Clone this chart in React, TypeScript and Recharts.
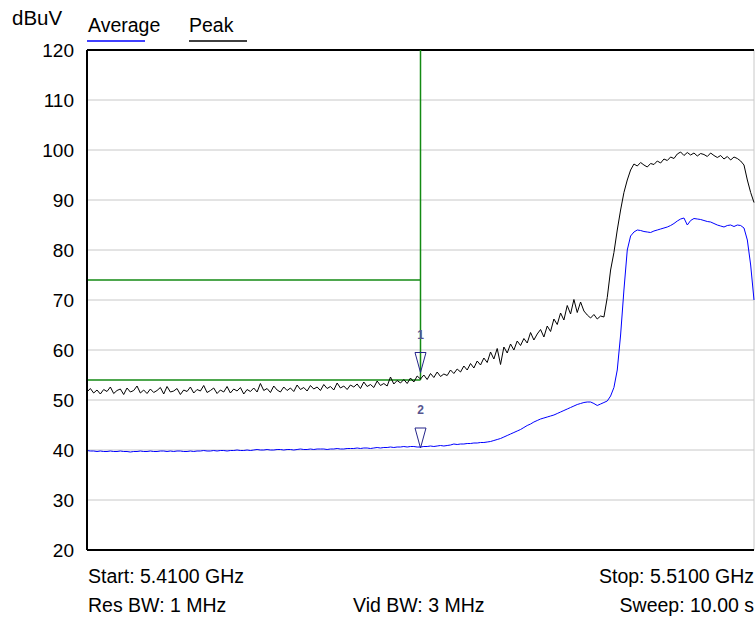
import React from "react";
import {
  LineChart,
  Line,
  XAxis,
  YAxis,
  CartesianGrid,
  ReferenceLine,
  ReferenceDot,
} from "recharts";

// sweep 5.41 - 5.51 GHz, 201 points (index 0..200)
const peakTrace = [
  51.6, 52.3, 51.4, 52.0, 51.2, 52.1, 51.7, 52.6, 51.3, 51.9,
  52.2, 51.1, 52.4, 51.6, 51.9, 52.8, 51.4, 52.0, 51.3, 52.2,
  51.5, 51.9, 52.5, 51.2, 52.7, 51.6, 51.8, 52.3, 51.1, 52.0,
  51.7, 52.6, 51.4, 52.1, 51.8, 52.9, 51.5, 51.9, 52.4, 51.3,
  52.0, 51.6, 52.7, 51.4, 52.2, 51.8, 52.5, 51.2, 52.1, 51.7,
  52.4, 51.6, 53.3, 51.9, 52.3, 51.5, 52.8, 52.0, 51.6, 52.6,
  51.9, 52.4, 51.7, 53.0, 52.1, 52.5, 51.8, 52.9, 52.2, 52.6,
  51.9, 53.1, 52.3, 52.7, 52.0, 53.4, 52.4, 52.8, 52.1, 53.0,
  52.6, 53.2, 52.3, 53.6, 52.7, 53.1, 52.5, 53.8, 52.9, 53.3,
  52.8, 54.6, 53.2, 53.9, 53.4, 54.1, 53.3, 54.4, 53.6, 54.8,
  54.2, 55.0, 54.1, 55.3, 54.5, 55.6, 54.7, 55.2, 54.9, 56.0,
  55.3, 56.2, 55.6, 56.8, 56.0, 57.3, 56.4, 57.8, 57.0, 58.4,
  57.5, 59.6, 58.2, 60.3, 57.1, 60.6, 59.4, 61.2, 60.0, 61.8,
  60.9, 62.3, 61.4, 63.5, 62.0, 63.2, 64.1, 62.6, 64.8, 63.7,
  66.2, 65.1, 67.4, 66.0, 68.9, 67.2, 70.1, 67.5, 69.6, 67.8,
  67.0, 66.4, 67.1, 66.2, 66.8, 66.6, 70.5, 76.0, 79.5, 84.0,
  88.0, 91.5, 94.0, 96.0, 97.2, 96.8, 97.5, 97.0, 96.6, 97.3,
  97.1, 97.8, 97.4, 98.2, 97.9, 98.6, 98.3, 99.2, 99.6, 98.9,
  99.5, 99.0, 99.4, 98.8, 99.3, 99.1, 98.7, 99.4, 98.9, 98.5,
  98.9, 98.2, 98.7, 98.0, 98.6, 98.3, 97.8, 97.0, 94.0, 91.5,
  89.5,
];

const averageTrace = [
  39.9, 39.8, 39.8, 39.7, 39.8, 39.7, 39.7, 39.8, 39.7, 39.7,
  39.8, 39.7, 39.7, 39.6, 39.7, 39.7, 39.8, 39.7, 39.7, 39.8,
  39.7, 39.7, 39.8, 39.8, 39.7, 39.8, 39.7, 39.8, 39.8, 39.7,
  39.7, 39.8, 39.7, 39.8, 39.8, 39.9, 39.8, 39.8, 39.9, 39.8,
  39.9, 39.9, 39.8, 39.9, 39.9, 40.0, 39.9, 39.9, 40.0, 39.9,
  40.0, 40.1, 40.0, 40.0, 40.1, 40.0, 40.0, 40.1, 40.1, 40.0,
  40.1, 40.1, 40.0, 40.1, 40.2, 40.1, 40.1, 40.2, 40.1, 40.2,
  40.2, 40.2, 40.1, 40.2, 40.2, 40.3, 40.2, 40.2, 40.3, 40.3,
  40.3, 40.4, 40.3, 40.4, 40.4, 40.3, 40.4, 40.5, 40.4, 40.5,
  40.5, 40.6, 40.5, 40.6, 40.6, 40.7, 40.6, 40.7, 40.7, 40.6,
  40.6, 40.7, 40.7, 40.8, 40.7, 40.8, 40.9, 40.8, 40.9, 41.0,
  41.2, 41.1, 41.2, 41.2, 41.3, 41.3, 41.4, 41.4, 41.5, 41.5,
  41.6, 41.7, 41.9, 42.1, 42.3, 42.6, 42.9, 43.2, 43.5, 43.8,
  44.1, 44.5, 44.9, 45.2, 45.6, 45.9, 46.2, 46.4, 46.6, 46.8,
  47.0, 47.3, 47.6, 47.9, 48.2, 48.5, 48.8, 49.1, 49.3, 49.5,
  49.6, 49.6, 49.3, 48.9, 49.2, 49.5, 49.8, 50.8, 52.5, 56.0,
  63.0, 72.0, 80.0, 82.8, 83.6, 84.0, 83.9, 83.7, 83.6, 83.5,
  83.8, 84.0, 84.2, 84.4, 84.6, 84.9, 85.3, 85.8, 86.2, 86.4,
  85.0, 85.9, 86.3, 86.2, 86.1, 85.9, 85.7, 85.6, 85.3, 85.0,
  84.8, 84.6, 84.9, 85.0, 84.7, 85.0, 84.9, 84.4, 82.0, 77.0,
  70.0,
];

const yTicks = [20, 30, 40, 50, 60, 70, 80, 90, 100, 110, 120];
const xTicks = [0, 20, 40, 60, 80, 100, 120, 140, 160, 180, 200];

// limit lines and markers
const limitUpper = 74;
const limitLower = 54;
const limitEnd = 100;
const markers = [
  { name: "1", x: 100, y: 55.5 },
  { name: "2", x: 100, y: 40.4 },
];

const unitLabel = "dBuV";
const legendItems = [
  { name: "Average", color: "#0000ff" },
  { name: "Peak", color: "#000000" },
];
const startText = "Start: 5.4100 GHz";
const stopText = "Stop: 5.5100 GHz";
const resBwText = "Res BW: 1 MHz";
const vidBwText = "Vid BW: 3 MHz";
const sweepText = "Sweep: 10.00 s";

const data = peakTrace.map((p, i) => ({ i, peak: p, average: averageTrace[i] }));

const FONT = "'Liberation Sans', Arial, sans-serif";
const GREEN = "#138a13";

const MarkerShape = (props: any) => {
  const { cx, cy, label } = props;
  if (cx == null || cy == null) return null;
  return (
    <g>
      <polygon
        points={`${cx - 5.5},${cy - 20} ${cx + 5.5},${cy - 20} ${cx},${cy}`}
        fill="none"
        stroke="#25258a"
        strokeWidth={1}
      />
      <text
        x={cx}
        y={cy - 34}
        textAnchor="middle"
        fontSize={12}
        fontWeight="bold"
        fill="#55558f"
        fontFamily={FONT}
      >
        {label}
      </text>
    </g>
  );
};

export default function App() {
  return (
    <div style={{ position: "absolute", left: 0, top: 0, width: 755, height: 620, background: "#fff" }}>
      <LineChart
        width={755}
        height={620}
        data={data}
        margin={{ top: 50, right: 1, bottom: 40, left: 0 }}
      >
        <CartesianGrid stroke="#c8c8c8" strokeWidth={1} />
        <XAxis
          dataKey="i"
          type="number"
          domain={[0, 200]}
          ticks={xTicks}
          tick={false}
          tickLine={false}
          height={30}
          axisLine={{ stroke: "#000", strokeWidth: 2 }}
        />
        <YAxis
          type="number"
          domain={[20, 120]}
          ticks={yTicks}
          width={87}
          tickLine={false}
          tickMargin={7}
          axisLine={{ stroke: "#000", strokeWidth: 2 }}
          tick={{ fill: "#000", fontSize: 19, fontFamily: FONT }}
          interval={0}
        />
        <ReferenceLine y={120} stroke="#000" strokeWidth={2} />
        <ReferenceLine
          segment={[{ x: 0, y: limitUpper }, { x: limitEnd, y: limitUpper }]}
          stroke={GREEN}
          strokeWidth={1.5}
        />
        <ReferenceLine
          segment={[{ x: 0, y: limitLower }, { x: limitEnd, y: limitLower }]}
          stroke={GREEN}
          strokeWidth={1.5}
        />
        <ReferenceLine
          segment={[{ x: limitEnd, y: limitLower }, { x: limitEnd, y: 120 }]}
          stroke={GREEN}
          strokeWidth={1.5}
        />
        <Line
          type="linear"
          dataKey="average"
          stroke="#0000ff"
          strokeWidth={1}
          dot={false}
          isAnimationActive={false}
        />
        <Line
          type="linear"
          dataKey="peak"
          stroke="#000"
          strokeWidth={1}
          dot={false}
          isAnimationActive={false}
        />
        {markers.map((m) => (
          <ReferenceDot
            key={m.name}
            x={m.x}
            y={m.y}
            r={0}
            shape={(p: any) => <MarkerShape {...p} label={m.name} />}
          />
        ))}
      </LineChart>

      {/* header and footer text */}
      <svg
        width={755}
        height={620}
        style={{ position: "absolute", left: 0, top: 0, pointerEvents: "none" }}
        fontFamily={FONT}
        fontSize={19.5}
      >
        <text x={12} y={25} fill="#000" fontSize={20.5}>{unitLabel}</text>
        <text x={88} y={32} fill="#000">{legendItems[0].name}</text>
        <line x1={87} x2={145} y1={41} y2={41} stroke={legendItems[0].color} strokeWidth={1.5} />
        <text x={189} y={32} fill="#000">{legendItems[1].name}</text>
        <line x1={189} x2={247} y1={41} y2={41} stroke={legendItems[1].color} strokeWidth={1.5} />

        <text x={88} y={583} fill="#000">{startText}</text>
        <text x={754} y={583} fill="#000" textAnchor="end">{stopText}</text>
        <text x={88} y={612} fill="#000">{resBwText}</text>
        <text x={353} y={612} fill="#000">{vidBwText}</text>
        <text x={754} y={612} fill="#000" textAnchor="end">{sweepText}</text>
      </svg>
    </div>
  );
}
